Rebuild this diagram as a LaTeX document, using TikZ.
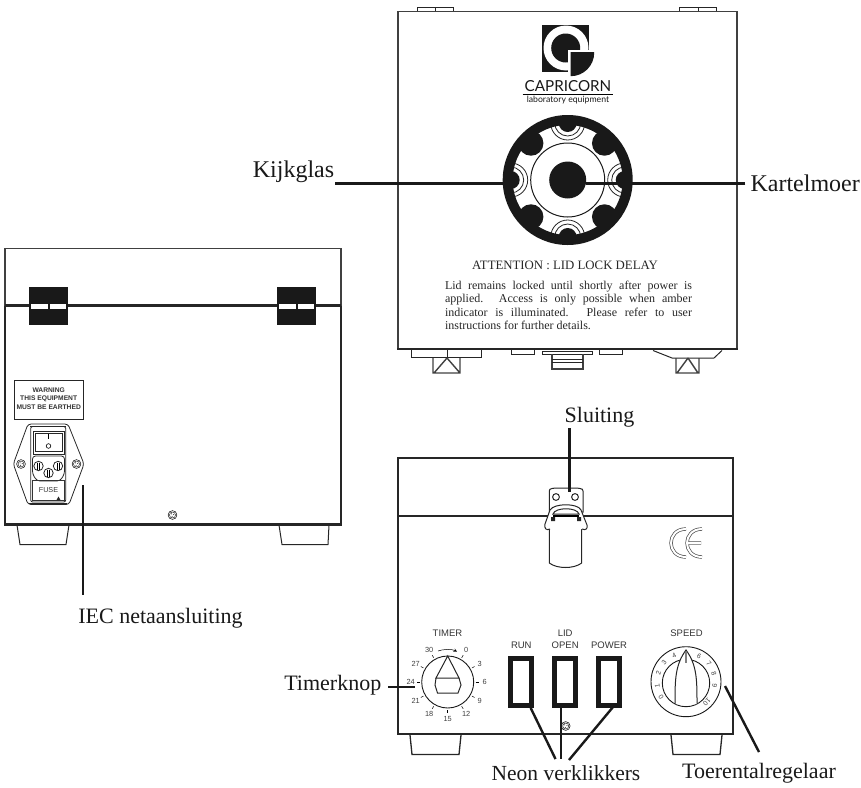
\documentclass[tikz,border=0pt]{standalone}
\usepackage{fontspec}
\usetikzlibrary{calc}
\setmainfont{Liberation Serif}
\newfontfamily\panelfont{Liberation Sans}
\newfontfamily\logofont{Lato}
\tikzset{
	body/.style = {line width=2.2pt, black!85},
	thinbody/.style = {line width=1.4pt, black!75},
	part/.style = {line width=1pt, black!85},
	leader/.style = {line width=2.4pt, black!90},
	callout/.style = {font=\fontsize{22}{24}\selectfont, inner sep=1pt, black!90},
	wide callout/.style = {font=\fontsize{24}{26}\selectfont, inner sep=1pt, black!90},
	paneltext/.style = {font=\panelfont\fontsize{9.5}{11}\selectfont, inner sep=0pt, black!80},
	scaletext/.style = {font=\panelfont\fontsize{7.4}{8}\selectfont, inner sep=0pt, black!75},
	digittext/.style = {font=\panelfont\fontsize{6.8}{8}\selectfont, inner sep=0pt, black!75},
	lamp/.style = {draw=black!90, line width=5pt, minimum width=21pt, minimum height=47pt, inner sep=0pt},
	hingeblock/.style = {fill=black!90, minimum width=39pt, minimum height=38pt, inner sep=0pt},
}
\begin{document}
\begin{tikzpicture}[x=1pt, y=-1pt]
	\useasboundingbox (0,0) rectangle (861,787);

	\draw [thinbody] (398,349) -- (398,11.5) -- (737,11.5) -- (737,349);
	\draw [body] (397,349) -- (738,349);
	\draw [part] (417,11) -- (417,7) -- (453,7) -- (453,11) (435,7) -- (435,11);
	\draw [part] (679,11) -- (679,7) -- (716,7) -- (716,11) (698,7) -- (698,11);

	\fill [black!90] (542,24.5) rectangle (589,72);
	\begin{scope}
		\clip (540,24.5) rectangle (589,72);
		\fill [white] (566,48) circle (22.5);
	\end{scope}
	\fill [black!90] (565.7,48) circle (14.5);
	\fill [white] (568,50) rectangle (592,78);
	\begin{scope}
		\clip (570.7,52.7) rectangle (596,78);
		\fill [black!90] (570.7,52.7) circle (23.5);
	\end{scope}
	\node [font=\logofont\fontsize{15.2}{16}\selectfont, inner sep=0pt, black!90] (logoName) at (568,86.5) {CAPRICORN};
	\draw [line width=0.6pt] (522.7,94.6) -- (613,94.6);
	\node [font=\logofont\fontsize{8.7}{10}\selectfont, inner sep=0pt, black!90] (logoSub) at (568,100.5) {laboratory equipment};

	\coordinate (ringC) at (567.7,180);
	\begin{scope}
		\clip (ringC) circle (60);
		\foreach \a in {0,90,180,270} {
			\begin{scope} [shift={(ringC)}, rotate=\a]
				\draw [line width=0.8pt, black!85] (57,0) circle (17);
				\draw [line width=0.8pt, black!85] (57,0) circle (13);
				\fill [black!90] (57,0) circle (9);
			\end{scope}
		}
		\foreach \a in {45,135,225,315} {
			\fill [black!90] (ringC) ++(\a:52) circle (12.5);
		}
	\end{scope}
	\draw [line width=10pt, black!90] (ringC) circle (60);
	\draw [line width=1pt, black!90] (ringC) circle (37);
	\node [circle, fill=black!90, minimum size=37pt, inner sep=0pt] (knob) at (ringC) {};
	\coordinate (knobEnd) at (586,183.5);
	\coordinate (glassEnd) at (503,183.5);

	\node [font=\fontsize{12.8}{14}\selectfont, inner sep=0pt, black!85] (attention) at (565,265) {ATTENTION : LID LOCK DELAY};
	\node [font=\fontsize{12}{13.3}\selectfont, inner sep=0pt, text width=247pt, align=justify, black!85] (notice) at (568.5,305.5) {\makebox[247pt][s]{Lid remains locked until shortly after power is}\\\makebox[247pt][s]{applied. Access is only possible when amber}\\\makebox[247pt][s]{indicator is illuminated. Please refer to user}\\instructions for further details.};

	\draw [part] (411,350) -- (411,357.7) -- (481,357.7) -- (481,350) (447,350) -- (447,357.7);
	\draw [thinbody] (433,358) -- (433,373) -- (460,373) -- (460,358) (447,358) -- (434,373) (447,358) -- (460,373);
	\draw [part] (653,350.5) -- (672,358) -- (714,358) -- (722,350.5);
	\draw [thinbody] (676,358) -- (676,373) -- (699,373) -- (699,358) (688,358) -- (677,373) (688,358) -- (698,373);
	\draw [part] (511,350) -- (511,354) -- (534,354) -- (534,350);
	\draw [part] (599,350) -- (599,354) -- (622,354) -- (622,350);
	\draw [part] (542,351) rectangle (592,354);
	\draw [thinbody] (552,354) -- (552,369) -- (583,369) -- (583,354);
	\draw [part] (552,359) -- (583,359) (552,362) -- (583,362);

	\draw [thinbody] (5,305.5) -- (5,248.5) -- (341,248.5) -- (341,305.5);
	\draw [body] (5,305.5) -- (341,305.5);
	\draw [body, line width=2.6pt, line cap=square] (341,305.5) -- (341,524.5) -- (5,524.5) -- (5,305.5);
	\foreach \hx/\hname in {48.5/hingeA, 296.5/hingeB} {
		\node [hingeblock] (\hname) at (\hx,306) {};
		\fill [white] (\hx-17.5,303.5) rectangle (\hx-1,308.5);
		\fill [white] (\hx+1,303.5) rectangle (\hx+17.5,308.5);
	}
	\draw [part] (17,525) -- (20,544.5) -- (66,544.5) -- (69,525);
	\draw [part] (279,525) -- (282,544.5) -- (328,544.5) -- (329,525);

	\node [draw=black!85, line width=0.7pt, minimum width=69.5pt, minimum height=39.5pt, inner sep=0pt] (warning) at (48.7,399.7) {};
	\node [paneltext, font=\panelfont\bfseries\fontsize{6.7}{8}\selectfont] at (48.7,390.3) {WARNING};
	\node [paneltext, font=\panelfont\bfseries\fontsize{6.7}{8}\selectfont] at (48.7,398.8) {THIS EQUIPMENT};
	\node [paneltext, font=\panelfont\bfseries\fontsize{6.7}{8}\selectfont] at (48.7,407.5) {MUST BE EARTHED};

	\draw [line width=0.8pt, black!85, rounded corners=3pt] (28,424) -- (68,424) -- (84,464) -- (69,504.5) -- (28,504.5) -- (13.3,464) -- cycle;
	\draw [line width=0.8pt, black!85, rounded corners=2pt] (30.7,426.5) rectangle (65.7,502);
	\draw [line width=0.4pt, black!85, rounded corners=2pt] (30,425.7) -- (66,425.7) (29,503) -- (67,503);
	\draw [line width=0.8pt, black!85] (33,431) rectangle (64,454);
	\draw [line width=0.5pt, black!85] (35,433) rectangle (62,451);
	\draw [line width=0.5pt] (48.5,434) -- (48.5,438.5);
	\draw [line width=0.6pt] (48.5,446) circle (2.3);
	\draw [line width=0.8pt, black!85, rounded corners=3pt] (32.5,456) -- (64.5,456) -- (64.5,474) -- (60,481) -- (37,481) -- (32.5,474) -- cycle;
	\foreach \px/\py in {38.5/466, 58/466, 48.5/473} {
		\draw [line width=0.8pt, black!85] (\px,\py) circle (4.7);
		\draw [line width=0.5pt] (\px-1.2,\py-3.5) -- (\px-1.2,\py+3.5) (\px+1.2,\py-3.5) -- (\px+1.2,\py+3.5);
	}
	\node [draw=black!85, line width=0.8pt, minimum width=32pt, minimum height=19.5pt, inner sep=0pt, paneltext, font=\panelfont\fontsize{7.2}{8}\selectfont] (fuse) at (48.5,490.5) {FUSE};
	\fill [black!85] (56.5,500) -- (58.5,496.5) -- (60.5,500) -- cycle;
	\foreach \sx/\sy in {21/464, 76.5/464, 172.5/515, 565.7/726} {
		\draw [line width=0.5pt] (\sx,\sy) circle (4.4);
		\draw [line width=0.4pt] (\sx,\sy) circle (3);
		\fill (\sx-1,\sy-1.2) circle (0.5) (\sx+1.2,\sy-0.4) circle (0.5) (\sx-0.4,\sy+1.3) circle (0.5);
	}

	\draw [body] (398,515.7) -- (398,458) -- (733,458) -- (733,515.7);
	\draw [body] (398,515.7) -- (733,515.7);
	\draw [body, line width=2.4pt, line cap=square] (733,515.7) -- (733,734) -- (398,734) -- (398,515.7);
	\draw [part, line width=1.3pt] (410,735) -- (412,754.5) -- (459,754.5) -- (461,735);
	\draw [part, line width=1.3pt] (671,735) -- (673,754.5) -- (720,754.5) -- (722,735);

	\draw [part, fill=white] (549.3,491) .. controls (549.3,488) and (552,488) .. (566,488) .. controls (580,488) and (583,488) .. (583,491) -- (583,512) -- (549.3,512) -- cycle;
	\draw [part] (556,497) circle (3.4) (575,497) circle (3.4);
	\draw [part, fill=white] (549.3,520) -- (581.7,520) -- (581.7,563) .. controls (574,569) and (557,569) .. (549.3,563) -- cycle;
	\draw [part, fill=white] (550,529) .. controls (546,531) and (544,528) .. (545,524) -- (550,510) .. controls (554,503) and (578,503) .. (581,510) -- (587,525) .. controls (588,528) and (586,531) .. (582,529);
	\draw [part, fill=white] (553,514) .. controls (555,507) and (577,507) .. (579,514) -- cycle;
	\draw [line width=1.6pt] (553,515.7) -- (579,515.7);
	\fill [black!85] (551,517) rectangle (555,521) (577,517) rectangle (581,521);

	\draw [line width=3.4pt, black!70] (686,529) .. controls (666,529) and (666,557) .. (686,557);
	\draw [white, line width=2pt] (686,529) .. controls (666,529) and (666,557) .. (686,557);
	\draw [line width=3.4pt, black!70] (702,529) .. controls (682,529) and (682,557) .. (702,557) (688,543) -- (701,543);
	\draw [white, line width=2pt] (702,529) .. controls (682,529) and (682,557) .. (702,557) (688,543) -- (701,543);

	\node [paneltext] (timerLabel) at (447.5,633) {TIMER};
	\node [circle, draw=black!90, line width=0.9pt, minimum size=52pt, inner sep=0pt] (timerDial) at (447.7,682) {};
	\foreach \lab [count=\i from 0] in {0,3,6,9,12,15,18,21,24,27,30} {
		\pgfmathsetmacro{\ang}{-60+30*\i}
		\draw [line width=0.5pt] (timerDial.center) ++(\ang:28) -- ++(\ang:3);
		\node [scaletext] at ($(timerDial.center)+(\ang:37)$) {\lab};
	}
	\draw [line width=0.5pt, ->, >=stealth] (438,651) .. controls (443,649) and (452,649) .. (457,651.5);
	\draw [part] (447.7,656) -- (436,678) -- (459,678) -- cycle;
	\draw [part] (436,678) -- (435,685) -- (437.5,693) -- (458,693) -- (461,685) -- (459,678);

	\node [lamp] (lampRun) at (521.3,682) {};
	\node [lamp] (lampLid) at (565.2,682) {};
	\node [lamp] (lampPower) at (609,682) {};
	\node [paneltext] (runLabel) at (521.3,645) {RUN};
	\node [paneltext] (lidLabel) at (565.2,633) {LID};
	\node [paneltext] (openLabel) at (565.2,645) {OPEN};
	\node [paneltext] (powerLabel) at (609,645) {POWER};
	\node [paneltext] (speedLabel) at (686.5,633) {SPEED};

	\node [circle, draw=black!90, line width=0.9pt, minimum size=70pt, inner sep=0pt] (speedDial) at (686,681.7) {};
	\draw [line width=0.9pt, black!90] (686,683) circle (23.7);
	\foreach \lab/\ang in {0/149, 1/172, 2/198, 3/221, 4/246, 6/297, 7/322, 8/344, 9/368, 10/404} {
		\pgfmathsetmacro{\rot}{-\ang-90}
		\node [digittext, rotate=\rot] at ($(speedDial.center)+(\ang:29)$) {\lab};
	}
	\draw [part, fill=white] (675,704) .. controls (675,680) and (675,665) .. (686,650) .. controls (697,665) and (697,680) .. (697,704);
	\fill [black!50] (684.8,652) rectangle (687.3,663);

	\node [wide callout] (kijkglas) at (293.5,172) {Kijkglas};
	\node [wide callout, anchor=east] (kartelmoer) at (861,183) {Kartelmoer};
	\node [callout] (sluiting) at (599.5,417) {Sluiting};
	\node [callout] (iec) at (160.5,618) {IEC netaansluiting};
	\node [callout, anchor=east] (timerknop) at (382.5,685.5) {Timerknop};
	\node [callout, font=\fontsize{21.5}{24}\selectfont] (neon) at (566,773) {Neon verklikkers};
	\node [callout] (toerental) at (759,773) {Toerentalregelaar};

	\coordinate (latchEnd) at (569.5,492);
	\coordinate (socketEnd) at (83,485);
	\coordinate (socketStart) at (83,594.5);
	\coordinate (dialEnd) at (415,687);
	\coordinate (neonA) at (555.5,759);
	\coordinate (neonB) at (561,759);
	\coordinate (neonC) at (569,760);
	\coordinate (speedEnd) at (725,686);
	\coordinate (speedStart) at (759,752);

	\draw [leader] (kijkglas.east |- glassEnd) -- (glassEnd);
	\draw [leader] ([xshift=-4pt]kartelmoer.west |- knobEnd) -- (knobEnd);
	\draw [leader] (sluiting.south -| latchEnd) -- (latchEnd);
	\draw [leader] (socketStart) -- (socketEnd);
	\draw [leader] ([xshift=5.5pt]timerknop.east |- dialEnd) -- (dialEnd);
	\draw [leader] ([xshift=9.4pt]lampRun.south) -- (neonA);
	\draw [leader] ([yshift=2pt]lampLid.south -| neonB) -- (neonB);
	\draw [leader] ([xshift=4pt, yshift=1pt]lampPower.south) -- (neonC);
	\draw [leader] (speedEnd) -- (speedStart);
\end{tikzpicture}
\end{document}
